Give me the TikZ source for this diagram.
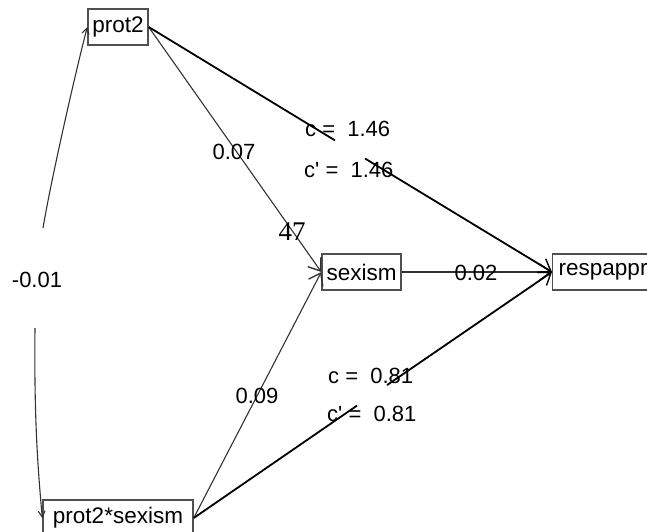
\documentclass[tikz,border=0pt]{standalone}
\usepackage{fontspec}
\setmainfont{Liberation Sans}
\newfontfamily\plainsans{Liberation Sans}
\newfontfamily\serifnum{Liberation Serif}
\usetikzlibrary{arrows.meta}
\definecolor{boxgray}{RGB}{80,80,80}
\definecolor{thingray}{RGB}{50,50,50}
\newcommand{\sq}{{\plainsans'}}
\tikzset{
  varbox/.style={draw=boxgray, line width=1.4pt, minimum height=36pt, inner xsep=4pt, inner ysep=0pt, font=\fontsize{22.5}{27}\selectfont, text=black},
  elabel/.style={font=\fontsize{22}{26}\selectfont, text=black, inner sep=0pt},
  thickline/.style={draw=black, line width=1.8pt},
  thinline/.style={draw=thingray, line width=1.1pt},
  bigtip/.style={-{Straight Barb[length=11pt,width=16pt,line width=1.4pt]}},
  smalltip/.style={-{Straight Barb[length=6pt,width=7pt,line width=1.1pt]}}
}
\begin{document}
\begin{tikzpicture}[x=1pt,y=-1pt]
\useasboundingbox (0,0) rectangle (647,531);
% nodes
\node[varbox, minimum width=60pt] (prot2) at (118,27) {prot2};
\node[varbox, minimum width=79pt] (sexism) at (361.5,272) {sexism};
\node[varbox, anchor=west, inner xsep=6pt] (respappr) at (552,272) {respappr};
\node[varbox, minimum width=150pt] (prot2sexism) at (118,518) {prot2*sexism};
% gap coordinates
\coordinate (g1) at (335,140.4);
\coordinate (g2) at (365,158.5);
\coordinate (g3) at (357,405.6);
\coordinate (g4) at (387,385.1);
\coordinate (c1) at (43,228);
\coordinate (c2) at (35,328);
% thin paths
\draw[thinline, bigtip] (prot2.east) -- (sexism.west);
\draw[thinline, bigtip] (prot2sexism.east) -- (sexism.west);
\draw[thinline, bigtip] (sexism.east) -- (respappr.west);
% thick paths
\draw[thickline] (prot2.east) -- (g1);
\draw[thickline, bigtip] (g2) -- (respappr.west);
\draw[thickline] (prot2sexism.east) -- (g3);
\draw[thickline, bigtip] (g4) -- (respappr.west);
% covariance curve
\draw[thinline, smalltip] (c1) .. controls (51,180) and (76,70) .. (prot2.west);
\draw[thinline, smalltip] (c2) .. controls (34,420) and (38,470) .. (prot2sexism.west);
% labels
\node[elabel] (l001) at (37,280) {-0.01};
\node[elabel] (l007) at (234,152) {0.07};
\node[elabel] (l002) at (476,273) {0.02};
\node[elabel] (l009) at (257,396) {0.09};
\node[elabel, anchor=west] (lc1) at (305,128.5) {c = \ 1.46};
\node[elabel, anchor=west] (lcp1) at (304,170) {c\sq{} = \ 1.46};
\node[elabel, anchor=west] (lc2) at (328,376) {c = \ 0.81};
\node[elabel, anchor=west] (lcp2) at (327,414) {c\sq{} = \ 0.81};
\node[inner sep=0pt, font=\serifnum\fontsize{27}{30}\selectfont] (n47) at (292,232) {47};
\end{tikzpicture}
\end{document}
